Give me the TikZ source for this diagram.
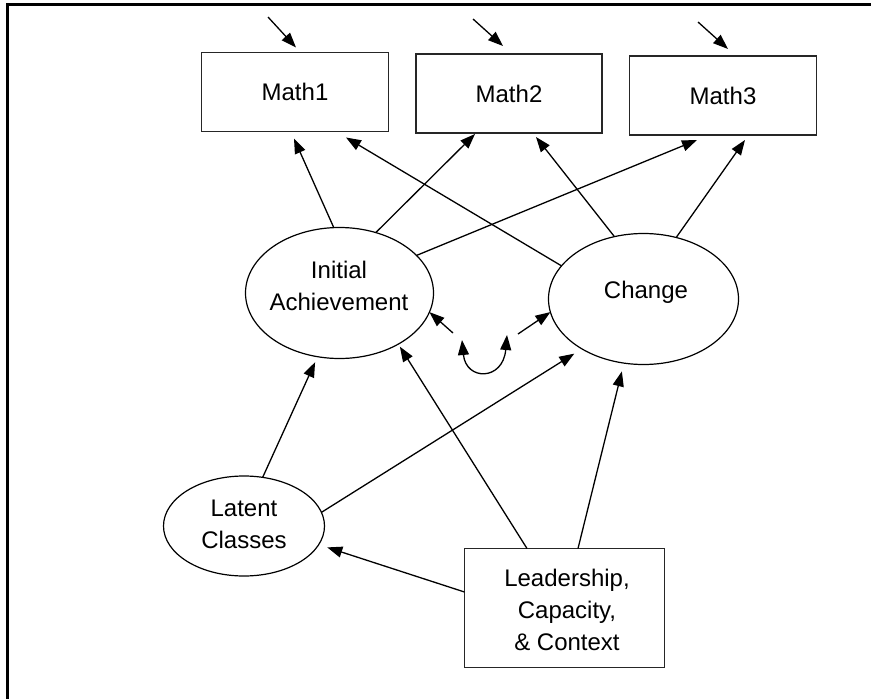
\documentclass[tikz,border=0pt]{standalone}
\usepackage{fontspec}
\setmainfont{Liberation Sans}
\usetikzlibrary{arrows.meta,shapes.geometric}
\begin{document}
\begin{tikzpicture}[x=1pt,y=-1pt,
  every node/.style={inner sep=0pt,outer sep=0pt},
  box/.style={draw=black!85,line width=1.6pt,rectangle},
  oval/.style={draw,line width=1.2pt,ellipse},
  lbl/.style={font=\fontsize{24}{32}\selectfont,align=center},
  head/.style={Triangle[length=15pt,width=11pt]},
  arr/.style={line width=1.3pt,-{Triangle[length=15pt,width=11pt]}},
  frame/.style={line width=2.8pt,line join=miter}]
\useasboundingbox (0,0) rectangle (871,699);
\fill[white] (0,0) rectangle (871,699);
% frame lines along the top and left edges
\draw[frame] (7.7,699) -- (7.7,4.2) -- (871,4.2);

% observed measures
\node[box,lbl,minimum width=187pt,minimum height=79pt] (m1) at (295,92) {Math1};
\node[box,lbl,minimum width=186pt,minimum height=79pt] (m2) at (509,93.5) {Math2};
\node[box,lbl,minimum width=187pt,minimum height=79pt] (m3) at (723,95.5) {Math3};

% latent growth factors
\node[oval,minimum width=188pt,minimum height=131pt] (ia) at (339.5,293) {};
\node[lbl] (iat) at (339,286) {Initial\\Achievement};
\node[oval,minimum width=190pt,minimum height=131pt] (ch) at (643.5,299) {};
\node[lbl] (cht) at (646,292) {Change};

% predictors
\node[oval,minimum width=161pt,minimum height=100pt] (lc) at (244,526) {};
\node[lbl] (lct) at (244,524) {Latent\\Classes};
\node[box,minimum width=200pt,minimum height=119pt] (ld) at (564.5,608) {};
\node[lbl] (ldt) at (567,610) {Leadership,\\Capacity,\\\& Context};

% residual arrows into the measures
\coordinate (e1) at (268,17);
\coordinate (e2) at (473,19);
\coordinate (e3) at (698,22);
\draw[arr] (e1) -- ([xshift=1pt,yshift=5pt]m1.north);
\draw[arr] (e2) -- ([xshift=-6pt,yshift=8pt]m2.north);
\draw[arr] (e3) -- ([xshift=5pt,yshift=7pt]m3.north);

% loadings
\draw[arr] (ia.95) -- ([xshift=-1pt,yshift=-7pt]m1.south);
\draw[arr] (ia.59) -- ([xshift=-34pt,yshift=-1pt]m2.south);
\draw[arr] (ia.26) -- ([xshift=-26pt,yshift=-5pt]m3.south);
\draw[arr] (ch.158) -- ([xshift=51pt,yshift=-6pt]m1.south);
\draw[arr] (ch.115) -- ([xshift=27pt,yshift=-4pt]m2.south);
\draw[arr] (ch.62) -- ([xshift=22pt,yshift=-5pt]m3.south);

% covariance between the growth factors
\coordinate (cl) at (453,333);
\coordinate (cr) at (518,334);
\coordinate (ua) at (462,340);
\coordinate (ub) at (507,335);
\draw[arr] (cl) -- (ia.348);
\draw[arr] (cr) -- (ch.188);
\draw[line width=1.3pt,{Triangle[length=15pt,width=11pt]}-{Triangle[length=15pt,width=11pt]}]
  (ua) .. controls (466,381) and (503,381) .. (ub);

% structural paths
\draw[arr,shorten >=6pt] (lc.69) -- (ia.251);
\draw[arr,shorten >=9pt] (lc.10) -- (ch.219);
\draw[arr,shorten >=3pt] ([xshift=-37.5pt]ld.north) -- (ia.319);
\draw[arr,shorten >=8.5pt] ([xshift=13.5pt]ld.north) -- (ch.253);
\draw[arr,shorten >=9pt] ([yshift=16pt]ld.west) -- (lc.-14);
\end{tikzpicture}
\end{document}
